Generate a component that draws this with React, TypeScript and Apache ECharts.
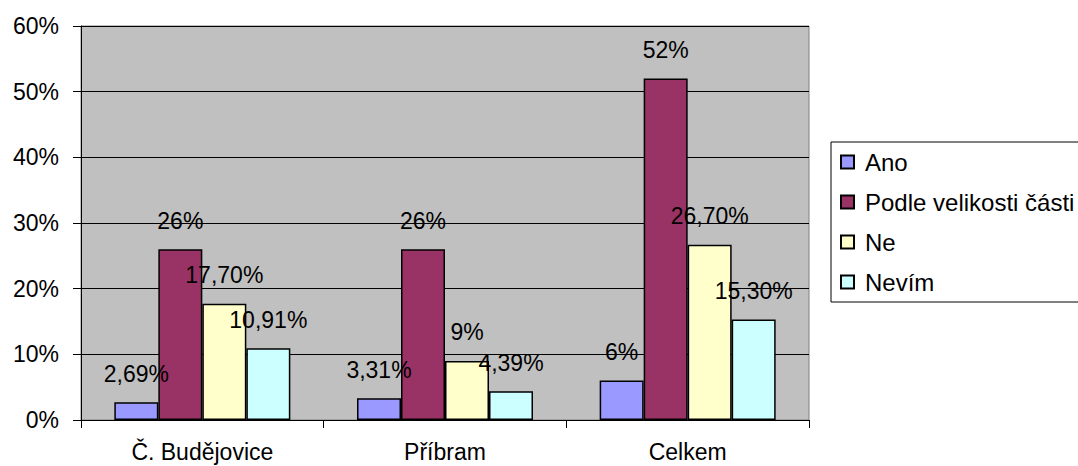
import React, { useEffect, useRef } from "react";
import * as echarts from "echarts";

const categories = ["Č. Budějovice", "Příbram", "Celkem"];
const seriesNames = ["Ano", "Podle velikosti části", "Ne", "Nevím"];
const ano = [2.69, 3.31, 6];
const podle = [26, 26, 52];
const ne = [17.7, 9, 26.7];
const nevim = [10.91, 4.39, 15.3];
const anoLabels = ["2,69%", "3,31%", "6%"];
const podleLabels = ["26%", "26%", "52%"];
const neLabels = ["17,70%", "9%", "26,70%"];
const nevimLabels = ["10,91%", "4,39%", "15,30%"];
const yTicks = [0, 10, 20, 30, 40, 50, 60];
const colors = ["#9999FF", "#993366", "#FFFFCC", "#CCFFFF"];

const FONT = "'Liberation Sans', Arial, sans-serif";
const FS = 23;

export default function App() {
  const ref = useRef<HTMLDivElement>(null);
  useEffect(() => {
    if (!ref.current) return;
    const chart = echarts.init(ref.current, undefined, { renderer: "svg" });
    const values = [ano, podle, ne, nevim];
    const labels = [anoLabels, podleLabels, neLabels, nevimLabels];
    chart.setOption({
      animation: false,
      backgroundColor: "#FFFFFF",
      textStyle: { fontFamily: FONT },
      grid: {
        left: 81,
        top: 26,
        right: 1078 - 809,
        bottom: 466 - 420,
        show: true,
        backgroundColor: "#C0C0C0",
        borderColor: "#808080",
        borderWidth: 1,
      },
      legend: {
        left: 831,
        top: 142,
        orient: "vertical",
        backgroundColor: "#FFFFFF",
        borderColor: "#000000",
        borderWidth: 1,
        padding: [8, 40, 8, 9],
        itemGap: 16,
        itemWidth: 13,
        itemHeight: 13,
        icon: "rect",
        data: seriesNames,
        textStyle: {
          fontFamily: FONT,
          fontSize: 24,
          color: "#000",
          lineHeight: 24,
          padding: [0, 0, 0, 6],
        },
      },
      xAxis: {
        type: "category",
        data: categories,
        axisLine: { lineStyle: { color: "#000", width: 1 } },
        axisTick: { show: true, length: 8, lineStyle: { color: "#000" } },
        axisLabel: { color: "#000", fontSize: FS, fontFamily: FONT, margin: 20 },
      },
      yAxis: {
        type: "value",
        min: yTicks[0],
        max: yTicks[yTicks.length - 1],
        interval: 10,
        axisLine: { show: true, lineStyle: { color: "#000", width: 1 } },
        axisTick: { show: true, length: 8, lineStyle: { color: "#000" } },
        axisLabel: {
          color: "#000",
          fontSize: FS,
          fontFamily: FONT,
          margin: 22,
          formatter: "{value}%",
        },
        splitLine: { show: true, lineStyle: { color: "#000", width: 1 } },
      },
      series: seriesNames.map((name, i) => ({
        name,
        type: "bar",
        barWidth: 44,
        barGap: "0%",
        data: values[i],
        itemStyle: { color: colors[i], borderColor: "#000", borderWidth: 1.5 },
        label: {
          show: true,
          position: "top",
          distance: 17,
          color: "#000",
          fontSize: FS,
          fontFamily: FONT,
          formatter: (p: any) => labels[i][p.dataIndex],
        },
      })),
    });
    return () => chart.dispose();
  }, []);
  return (
    <div
      ref={ref}
      style={{ position: "absolute", left: 0, top: 0, width: 1078, height: 466 }}
    />
  );
}
